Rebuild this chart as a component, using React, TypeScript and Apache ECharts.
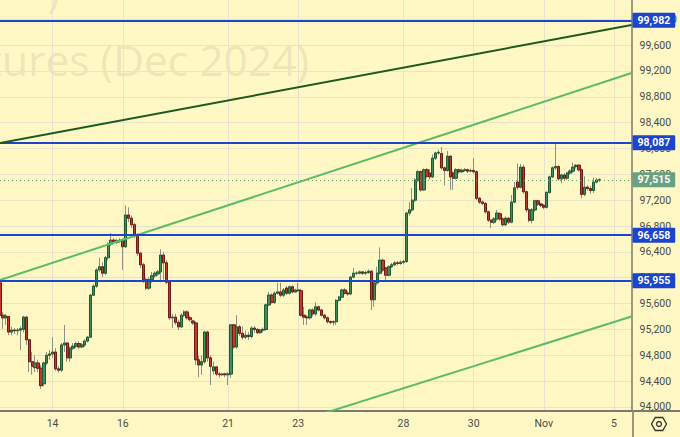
import React, { useEffect, useRef } from 'react';
import * as echarts from 'echarts';

const slotCount = 217;
const dateTickIndex = [18, 42, 78, 102, 138, 162, 186, 210];
const dateTickLabel = ['14', '16', '21', '23', '28', '30', 'Nov', '5'];
const priceTicks = [94000, 94400, 94800, 95200, 95600, 96000, 96400, 96800, 97200, 97600, 98000, 98400, 98800, 99200, 99600, 100000];
const priceMin = 93938;
const priceMax = 100297;
const blueLevels = [99982, 98087, 96658, 95955];
const lastPrice = 97515;
const darkTrend = [[0, 98084], [216, 99910]];
const upperChannel = [[0, 95965], [216, 99167]];
const lowerChannel = [[100, 93750], [216, 95400]];

// [open, close, low, high]
const candles: number[][] = [
  [95920,95420,95380,95960],[95420,95380,95210,95470],[95380,95410,95270,95440],[95400,95160,95110,95410],
  [95160,95190,95110,95240],[95190,95180,95130,95220],[95180,95190,95110,95220],[95190,95210,94880,95250],
  [95200,95390,95150,95410],[95390,95040,94960,95400],[95040,94700,94540,95050],[94700,94630,94500,94850],
  [94610,94680,94540,94800],[94680,94600,94540,94730],[94600,94330,94280,94650],[94360,94680,94320,94700],
  [94680,94800,94650,94850],[94800,94820,94730,94880],[94820,94850,94760,95080],[94850,94590,94560,94910],
  [94590,94570,94530,94630],[94570,94960,94540,94990],[94960,94990,94850,95270],[94990,94760,94700,95000],
  [94760,94910,94700,94940],[94910,94940,94880,94990],[94940,94980,94910,95010],[94980,94930,94900,95020],
  [94930,94960,94910,94990],[94960,95020,94930,95050],[95020,95080,95000,95100],[95080,95730,95070,95750],
  [95730,95870,95720,95900],[95870,96120,95840,96150],[96120,96170,96090,96310],[96170,96070,96010,96240],
  [96070,96310,96040,96340],[96310,96520,96270,96550],[96520,96580,96490,96690],[96580,96550,96520,96610],
  [96550,96570,96520,96600],[96570,96580,96540,96610],[96580,96480,96120,96610],[96480,96970,96460,97120],
  [96970,96920,96860,97090],[96920,96820,96770,96960],[96820,96660,96610,96850],[96660,96380,96340,96690],
  [96380,96200,96150,96400],[96200,95970,95920,96230],[95970,95840,95810,96000],[95840,95970,95810,96010],
  [95970,96030,95920,96090],[96030,96070,96000,96100],[96060,96090,96030,96120],[96090,96350,95930,96440],
  [96350,96230,95970,96400],[96230,95930,95900,96270],[95930,95380,95350,95950],[95380,95390,95220,95440],
  [95390,95310,95270,95440],[95310,95240,95190,95350],[95240,95420,95220,95450],[95420,95470,95390,95500],
  [95470,95380,95350,95500],[95380,95350,95320,95410],[95330,95300,95270,95350],[95300,94730,94650,95320],
  [94730,94650,94460,94790],[94650,94700,94500,94800],[94700,95160,94670,95180],[95160,94760,94700,95180],
  [94760,94630,94340,94800],[94560,94620,94500,94700],[94620,94510,94480,94630],[94510,94500,94460,94540],
  [94500,94510,94480,94530],[94510,94500,94460,94530],[94500,94510,94340,94540],[94510,95270,94450,95280],
  [95270,94930,94900,95280],[94930,95240,94900,95420],[95240,95140,95100,95270],[95140,95080,95040,95250],
  [95080,95110,95050,95180],[95110,95090,95040,95160],[95090,95220,95060,95250],[95220,95200,95150,95250],
  [95200,95150,95130,95220],[95150,95190,95130,95210],[95190,95200,95150,95230],[95200,95580,95180,95600],
  [95580,95730,95560,95780],[95730,95620,95600,95760],[95620,95760,95590,95790],[95760,95780,95740,95920],
  [95780,95730,95700,95920],[95730,95810,95700,95840],[95840,95760,95730,95870],[95760,95860,95740,95880],
  [95860,95780,95760,95880],[95780,95810,95770,95830],[95810,95800,95780,95920],[95800,95420,95400,95830],
  [95420,95390,95270,95550],[95390,95380,95270,95420],[95380,95500,95350,95520],[95500,95440,95400,95530],
  [95440,95550,95410,95620],[95550,95500,95480,95570],[95500,95420,95400,95520],[95420,95380,95350,95440],
  [95380,95320,95290,95400],[95320,95310,95280,95340],[95310,95320,95260,95340],[95320,95650,95270,95670],
  [95650,95700,95630,95720],[95700,95810,95680,95830],[95810,95760,95740,95840],[95760,95750,95720,95790],
  [95750,96010,95730,96030],[96010,96070,95990,96150],[96070,96070,96040,96100],[96070,96090,96050,96110],
  [96090,96070,96040,96100],[96070,96080,96040,96110],[96080,96100,96060,96130],[96100,95660,95500,96120],
  [95660,95920,95550,95940],[95920,96070,95880,96170],[96070,96270,96050,96470],[96270,96120,96090,96300],
  [96150,96040,95930,96170],[96040,96170,96020,96190],[96170,96200,96150,96230],[96200,96230,96180,96260],
  [96230,96220,96190,96260],[96220,96240,96200,96270],[96240,96250,96210,96280],[96250,97000,96230,97020],
  [97000,97050,96960,97170],[97050,97200,97020,97390],[97200,97510,97170,97540],[97510,97640,97480,97670],
  [97640,97360,97330,97660],[97360,97670,97340,97690],[97670,97570,97540,97700],[97620,97560,97520,97680],
  [97560,97850,97540,97910],[97850,97930,97820,97950],[97930,97940,97900,97980],[97920,97700,97670,98020],
  [97700,97660,97430,97720],[97660,97880,97640,97960],[97880,97560,97360,97890],[97620,97540,97360,97650],
  [97540,97670,97520,97700],[97670,97640,97610,97690],[97640,97660,97620,97690],[97660,97670,97640,97700],
  [97670,97650,97620,97690],[97650,97660,97630,97690],[97660,97640,97610,97850],[97640,97230,97200,97660],
  [97230,97170,97140,97250],[97170,97150,97120,97200],[97150,97020,96990,97170],[97020,96890,96860,97040],
  [96890,96860,96770,96900],[96860,96910,96830,96940],[96910,97000,96880,97050],[96990,96910,96880,97010],
  [96910,96820,96790,96930],[96820,96920,96800,96950],[96920,96860,96830,96940],[96860,97170,96840,97280],
  [97170,97390,97150,97480],[97480,97400,97360,97770],[97400,97710,97380,97760],[97710,97330,97300,97750],
  [97330,97050,97010,97350],[97050,96890,96860,97080],[96890,97050,96840,97080],[97050,97190,97020,97210],
  [97190,97140,97110,97210],[97140,97120,97090,97160],[97120,97090,97060,97140],[97090,97320,97070,97340],
  [97320,97560,97300,97580],[97560,97700,97540,97720],[97700,97720,97670,98090],[97720,97530,97500,97740],
  [97530,97590,97460,97610],[97590,97540,97510,97620],[97540,97620,97510,97640],[97620,97650,97590,97680],
  [97650,97710,97620,97780],[97720,97740,97690,97760],[97740,97670,97640,97760],[97670,97290,97230,97690],
  [97290,97400,97260,97570],[97400,97380,97350,97430],[97380,97350,97300,97420],[97350,97480,97310,97550],
  [97480,97510,97460,97540],[97510,97515,97480,97540],
];

const BG = '#fff8c4';
const GRIDC = '#e8e4cc';
const BLUE = '#1c44cc';
const LASTC = '#6b9f7f';
const AXISC = '#7a7a72';
const LABELC = '#4a4a4a';

export default function App() {
  const ref = useRef<HTMLDivElement>(null);
  useEffect(() => {
    const chart = echarts.init(ref.current!, null, { renderer: 'svg' });
    const categories = Array.from({ length: slotCount }, (_, i) => String(i));
    const bodies = candles.map(([o, c]) => [o, c, Math.min(o, c), Math.max(o, c)]);
    const fmt = (v: number) => Number(v).toLocaleString('en-US');
    const tickMap = new Map<number, string>(dateTickIndex.map((d, k) => [d, dateTickLabel[k]]));
    const boxLabel = (bg: string) => ({
      show: true,
      position: 'end',
      distance: 1,
      formatter: (p: any) => fmt(p.value),
      backgroundColor: bg,
      color: '#ffffff',
      fontFamily: 'Roboto',
      fontSize: 10.5,
      fontWeight: 'bold',
      padding: [2, 5, 2, 5],
      borderRadius: 1,
    });
    const option: any = {
      animation: false,
      backgroundColor: BG,
      textStyle: { fontFamily: 'Roboto' },
      grid: { left: 0, top: 0, right: 47, bottom: 26 },
      xAxis: {
        type: 'category',
        data: categories,
        boundaryGap: false,
        axisLine: { show: true, lineStyle: { color: AXISC, width: 2 } },
        axisTick: { show: false },
        axisLabel: {
          interval: (i: number) => tickMap.has(i),
          formatter: (_v: string, i: number) => tickMap.get(i) ?? '',
          color: LABELC,
          fontSize: 10.5,
          margin: 7,
        },
        splitLine: { show: true, interval: (i: number) => tickMap.has(i), lineStyle: { color: GRIDC, width: 1 } },
      },
      yAxis: {
        type: 'value',
        position: 'right',
        min: priceMin,
        max: priceMax,
        axisLine: { show: true, lineStyle: { color: AXISC, width: 1.5 } },
        axisTick: { show: false, customValues: priceTicks },
        axisLabel: { customValues: priceTicks, formatter: fmt, color: LABELC, fontSize: 10.5, margin: 8, showMinLabel: true, showMaxLabel: true },
        splitLine: { show: true, lineStyle: { color: GRIDC, width: 1 } },
      },
      series: [
        {
          type: 'candlestick',
          data: candles,
          barWidth: 2.8,
          z: 2,
          itemStyle: { color: 'transparent', color0: 'transparent', borderColor: '#8f8f86', borderColor0: '#8f8f86', borderWidth: 1 },
        },
        {
          type: 'candlestick',
          data: bodies,
          barWidth: 2.8,
          z: 3,
          itemStyle: { color: '#3f8f5a', color0: '#c0392b', borderColor: '#1f5a33', borderColor0: '#6e1c14', borderWidth: 1 },
        },
        {
          type: 'line',
          data: upperChannel,
          z: 4,
          symbol: 'none',
          clip: true,
          lineStyle: { color: '#5cbd62', width: 2 },
        },
        {
          type: 'line',
          data: lowerChannel,
          z: 4,
          symbol: 'none',
          clip: true,
          lineStyle: { color: '#5cbd62', width: 2 },
        },
        {
          type: 'line',
          data: darkTrend,
          z: 5,
          symbol: 'none',
          clip: true,
          lineStyle: { color: '#1c5b20', width: 2 },
          markLine: {
            silent: true,
            symbol: ['none', 'none'],
            animation: false,
            data: [
              ...blueLevels.map((v) => ({ yAxis: v, lineStyle: { color: BLUE, width: 2, type: 'solid' }, label: boxLabel(BLUE) })),
              { yAxis: lastPrice, lineStyle: { color: LASTC, width: 1, type: [1, 3] }, label: boxLabel(LASTC) },
            ],
          },
        },
      ],
      graphic: [
        {
          type: 'text',
          z: -10,
          silent: true,
          style: { text: 'Futures (Dec 2024)', x: 309, y: 59, align: 'right', verticalAlign: 'middle', fontFamily: 'Open Sans', fontSize: 42.5, fill: 'rgba(105,105,100,0.15)' },
        },
        {
          type: 'text',
          z: -10,
          silent: true,
          style: { text: ')', x: 47, y: 12, align: 'left', verticalAlign: 'bottom', fontFamily: 'Open Sans', fontSize: 42.5, fill: 'rgba(105,105,100,0.15)' },
        },
        { type: 'line', silent: true, shape: { x1: 633, y1: 411, x2: 633, y2: 437 }, style: { stroke: AXISC, lineWidth: 1.5 } },
        { type: 'line', silent: true, shape: { x1: 633, y1: 411, x2: 680, y2: 411 }, style: { stroke: AXISC, lineWidth: 2 } },
        {
          type: 'polygon',
          silent: true,
          shape: { points: [[666.5, 424], [662.75, 430.5], [655.25, 430.5], [651.5, 424], [655.25, 417.5], [662.75, 417.5]] },
          style: { fill: 'none', stroke: '#333333', lineWidth: 1.3 },
        },
        { type: 'circle', silent: true, shape: { cx: 659, cy: 424, r: 2.5 }, style: { fill: 'none', stroke: '#333333', lineWidth: 1.3 } },
      ],
    };
    chart.setOption(option);
    return () => chart.dispose();
  }, []);
  return <div ref={ref} style={{ position: 'fixed', left: 0, top: 0, width: 680, height: 437 }} />;
}
